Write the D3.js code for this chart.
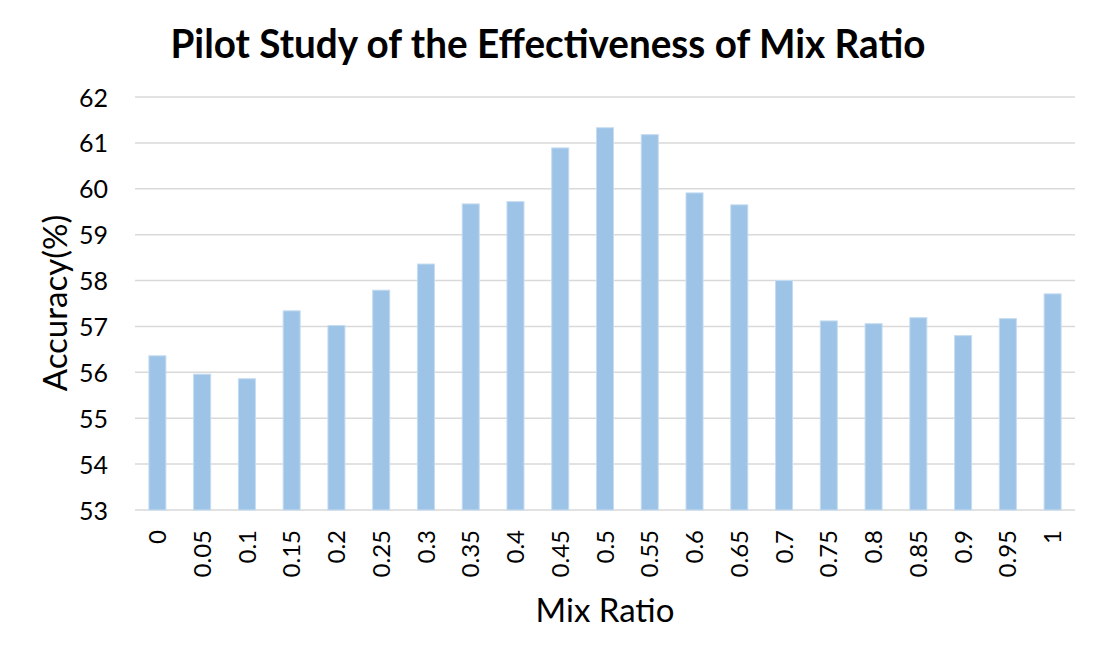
<!DOCTYPE html>
<html>
<head>
<meta charset="utf-8">
<script src="https://cdn.jsdelivr.net/npm/d3@7"></script>
<style>
  body { margin: 0; background: #fff; }
  text { font-family: Lato, "Noto Sans", sans-serif; fill: #000; }
</style>
</head>
<body>
<script>
// データ
var ratios = ["0", "0.05", "0.1", "0.15", "0.2", "0.25", "0.3", "0.35", "0.4", "0.45", "0.5",
              "0.55", "0.6", "0.65", "0.7", "0.75", "0.8", "0.85", "0.9", "0.95", "1"];
var accuracy = [56.36, 55.96, 55.86, 57.34, 57.02, 57.79, 58.36, 59.67, 59.72, 60.89, 61.33,
                61.18, 59.91, 59.65, 58.0, 57.12, 57.06, 57.19, 56.80, 57.17, 57.71];
var yTicks = [53, 54, 55, 56, 57, 58, 59, 60, 61, 62];

var width = 1100, height = 660;
var margin = { top: 97, right: 25, bottom: 150, left: 135 };

var svg = d3.select("body").append("svg").attr("width", width).attr("height", height);

var x = d3.scaleBand().domain(ratios)
    .range([margin.left, width - margin.right])
    .paddingInner(0.62).paddingOuter(0.31);
var y = d3.scaleLinear().domain([53, 62]).range([height - margin.bottom, margin.top]);

// グリッド線
svg.append("g").selectAll("line")
    .data(yTicks)
    .enter()
    .append("line")
    .attr("x1", margin.left)
    .attr("x2", width - margin.right)
    .attr("y1", function (d) { return y(d); })
    .attr("y2", function (d) { return y(d); })
    .attr("stroke", "#d9d9d9")
    .attr("stroke-width", 1.5);

// 棒
svg.append("g").selectAll("rect")
    .data(accuracy)
    .enter()
    .append("rect")
    .attr("x", function (d, i) { return x(ratios[i]); })
    .attr("y", function (d) { return y(d); })
    .attr("width", x.bandwidth())
    .attr("height", function (d) { return y(53) - y(d); })
    .attr("fill", "#9dc3e6")
    .attr("stroke", "#c5dcf1")
    .attr("stroke-width", 1);

// y軸
var yAxis = svg.append("g")
    .attr("transform", "translate(" + margin.left + ",0)")
    .call(d3.axisLeft(y).tickValues(yTicks).tickSize(0).tickPadding(27));
yAxis.select(".domain").remove();
yAxis.selectAll("text").style("font-size", "25px").attr("dy", "0.36em");

// x軸
var xAxis = svg.append("g")
    .attr("transform", "translate(0," + y(53) + ")")
    .call(d3.axisBottom(x).tickSize(0));
xAxis.select(".domain").remove();
xAxis.selectAll("text")
    .style("font-size", "24px")
    .attr("text-anchor", "end")
    .attr("transform", "rotate(-90)")
    .attr("x", -20)
    .attr("y", 0)
    .attr("dy", "0.36em");

// タイトル
svg.append("text")
    .attr("x", 548)
    .attr("y", 58)
    .attr("text-anchor", "middle")
    .attr("textLength", 755)
    .attr("lengthAdjust", "spacingAndGlyphs")
    .style("font-size", "40px")
    .style("font-weight", "bold")
    .text("Pilot Study of the Effectiveness of Mix Ratio");

svg.append("text")
    .attr("x", 605)
    .attr("y", 622)
    .attr("text-anchor", "middle")
    .style("font-size", "33px")
    .text("Mix Ratio");

svg.append("text")
    .attr("transform", "translate(67,303) rotate(-90)")
    .attr("text-anchor", "middle")
    .style("font-size", "33px")
    .text("Accuracy(%)");
</script>
</body>
</html>
